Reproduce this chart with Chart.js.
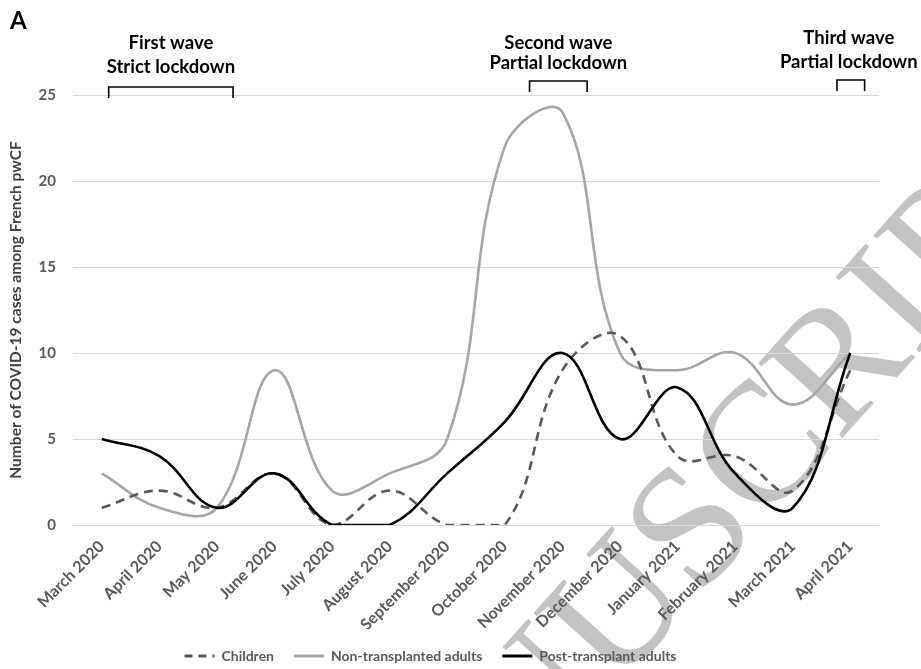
<!DOCTYPE html>
<html>
<head>
<meta charset="utf-8">
<script src="https://cdn.jsdelivr.net/npm/chart.js@4.4.1/dist/chart.umd.min.js"></script>
<style>
  html, body { margin: 0; padding: 0; background: #ffffff; }
  #wrap { width: 921px; height: 669px; position: relative; }
</style>
</head>
<body>
<div id="wrap"><canvas id="chart" width="921" height="669"></canvas></div>
<script>
// Monthly COVID-19 cases among French people with CF
const months = ['March 2020', 'April 2020', 'May 2020', 'June 2020', 'July 2020', 'August 2020',
  'September 2020', 'October 2020', 'November 2020', 'December 2020', 'January 2021',
  'February 2021', 'March 2021', 'April 2021'];
const children        = [1, 2, 1, 3, 0, 2, 0, 0, 9, 11, 4, 4, 2, 9];
const nonTransplanted = [3, 1, 1, 9, 2, 3, 5, 22, 24, 10, 9, 10, 7, 10];
const postTransplant  = [5, 4, 1, 3, 0, 0, 3, 6, 10, 5, 8, 3, 1, 10];
const yTickValues = [0, 5, 10, 15, 20, 25];

// Epidemic waves (span in month-category units)
const waveTitles = [['First wave', 'Strict lockdown'], ['Second wave', 'Partial lockdown'], ['Third wave', 'Partial lockdown']];
const waveStart = [0.12, 7.43, 12.77];
const waveEnd   = [2.28, 8.43, 13.25];

const FONT = 'Lato, "Open Sans", sans-serif';
const GREY_TEXT = '#595959';

// White background plus the diagonal watermark behind the chart
const backgroundPlugin = {
  id: 'background',
  beforeDraw(chart) {
    const ctx = chart.ctx;
    ctx.save();
    ctx.fillStyle = '#ffffff';
    ctx.fillRect(0, 0, chart.width, chart.height);
    const size = 172;
    ctx.font = size + 'px "Liberation Serif", serif';
    ctx.fillStyle = '#c3c3c3';
    const text = 'ACCEPTED MANUSCRIPT';
    const before = ctx.measureText('ACCEPTED MANUS').width;
    const cw = ctx.measureText('C').width;
    ctx.translate(758, 447);
    ctx.rotate(-48 * Math.PI / 180);
    ctx.textBaseline = 'alphabetic';
    ctx.textAlign = 'left';
    ctx.fillText(text, -(before + cw / 2), size * 0.33);
    ctx.restore();
  }
};

// Legend row sits slightly left of the plot centre
const legendShiftPlugin = {
  id: 'legendShift',
  afterLayout(chart) {
    if (chart.legend) chart.legend.left -= 22;
  }
};

// Panel letter and wave brackets above the plot
const annotationPlugin = {
  id: 'waves',
  afterDraw(chart) {
    const ctx = chart.ctx;
    const x = chart.scales.x;
    const y = chart.scales.y;
    const y25 = y.getPixelForValue(25);
    const rise = [8, 14, 15];
    const lowerGap = [20, 18, 18];
    const upperGap = [44, 38, 42];
    ctx.save();
    ctx.fillStyle = '#000000';
    ctx.font = 'bold 24px ' + FONT;
    ctx.textAlign = 'left';
    ctx.textBaseline = 'middle';
    ctx.fillText('A', 10, 21);

    ctx.strokeStyle = '#000000';
    ctx.lineWidth = 1.6;
    ctx.font = 'bold 18.5px ' + FONT;
    ctx.textAlign = 'center';
    waveTitles.forEach((lines, i) => {
      const x0 = x.getPixelForValue(waveStart[i]);
      const x1 = x.getPixelForValue(waveEnd[i]);
      const top = y25 - rise[i];
      const bottom = top + 11;
      ctx.beginPath();
      ctx.moveTo(x0, bottom);
      ctx.lineTo(x0, top);
      ctx.lineTo(x1, top);
      ctx.lineTo(x1, bottom);
      ctx.stroke();
      const cx = (x0 + x1) / 2 - (i === 2 ? 2 : 0);
      ctx.fillText(lines[1], cx, top - lowerGap[i]);
      ctx.fillText(lines[0], cx, top - upperGap[i]);
    });
    ctx.restore();
  }
};

const dashes = { Children: [8, 6] };

new Chart(document.getElementById('chart'), {
  type: 'line',
  data: {
    labels: months,
    datasets: [
      {
        label: 'Children',
        data: children,
        borderColor: '#595959',
        backgroundColor: '#595959',
        borderWidth: 2.6,
        borderDash: [9, 6],
        order: 1
      },
      {
        label: 'Non-transplanted adults',
        data: nonTransplanted,
        borderColor: '#a6a6a6',
        backgroundColor: '#a6a6a6',
        borderWidth: 2.6,
        order: 2
      },
      {
        label: 'Post-transplant adults',
        data: postTransplant,
        borderColor: '#000000',
        backgroundColor: '#000000',
        borderWidth: 2.6,
        order: 0
      }
    ]
  },
  options: {
    responsive: false,
    animation: false,
    devicePixelRatio: 1,
    layout: { padding: { top: 95, right: 42, bottom: -4, left: 4 } },
    elements: {
      point: { radius: 0, hoverRadius: 0 },
      line: { tension: 0.4, fill: false }
    },
    scales: {
      x: {
        offset: true,
        grid: { display: false },
        border: { display: false },
        ticks: {
          color: GREY_TEXT,
          font: { family: FONT, size: 16, weight: 'bold' },
          minRotation: 45,
          maxRotation: 45,
          padding: 4,
          autoSkip: false
        },
        afterFit(scale) {
          scale.height = 104;
          scale.paddingLeft = 0;
          scale.paddingRight = 0;
        }
      },
      y: {
        min: 0,
        max: 25,
        afterBuildTicks(scale) {
          scale.ticks = yTickValues.map(v => ({ value: v }));
        },
        afterFit(scale) {
          scale.width = 69;
        },
        grid: { color: '#d9d9d9', lineWidth: 1, drawTicks: false },
        border: { display: false },
        ticks: {
          color: GREY_TEXT,
          font: { family: FONT, size: 15, weight: 'bold' },
          padding: 17
        },
        title: {
          display: true,
          text: 'Number of COVID-19 cases among French pwCF',
          color: '#404040',
          font: { family: FONT, size: 15.5, weight: 'bold' },
          padding: { top: 3, bottom: 10 }
        }
      }
    },
    plugins: {
      legend: {
        position: 'bottom',
        labels: {
          color: GREY_TEXT,
          font: { family: FONT, size: 14, weight: 'bold' },
          usePointStyle: true,
          pointStyle: 'line',
          pointStyleWidth: 30,
          padding: 20,
          sort: (a, b) => a.datasetIndex - b.datasetIndex,
          generateLabels(chart) {
            const items = Chart.defaults.plugins.legend.labels.generateLabels(chart);
            return items.map(item => {
              const ds = chart.data.datasets[item.datasetIndex];
              item.lineDash = dashes[ds.label] || [];
              item.lineWidth = 3;
              item.strokeStyle = ds.borderColor;
              return item;
            });
          }
        }
      },
      tooltip: { enabled: false }
    }
  },
  plugins: [backgroundPlugin, legendShiftPlugin, annotationPlugin]
});
</script>
</body>
</html>
